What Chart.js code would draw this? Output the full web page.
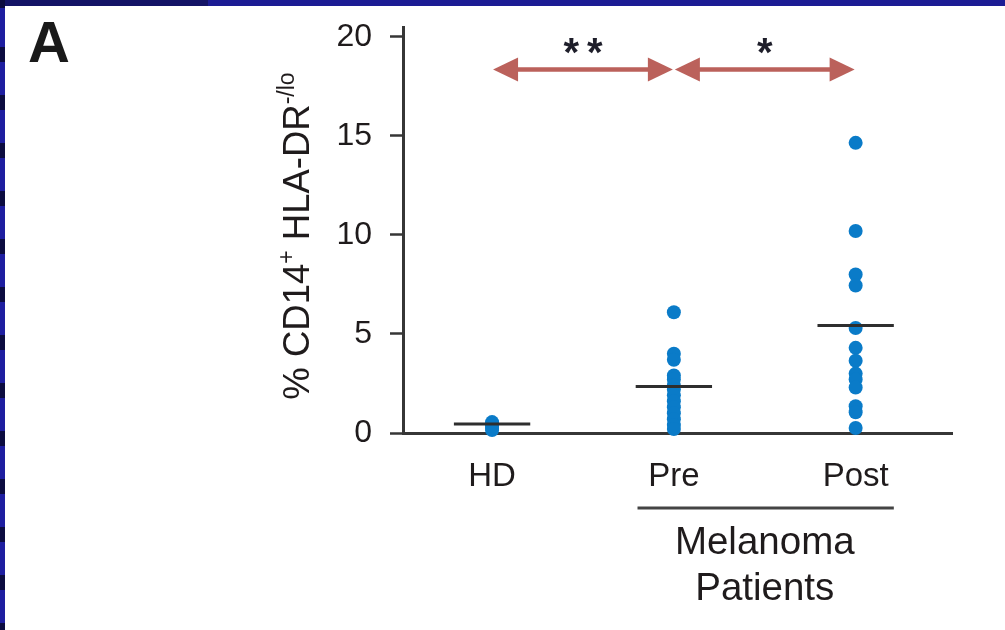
<!DOCTYPE html>
<html>
<head>
<meta charset="utf-8">
<script src="https://cdn.jsdelivr.net/npm/chart.js@4"></script>
<style>
html,body{margin:0;padding:0;width:1005px;height:630px;overflow:hidden;background:#1c1c94;}
#topdark{position:absolute;left:0;top:0;width:208px;height:6px;background:#141466;}
#leftstrip{position:absolute;left:0;top:0;width:5px;height:630px;
  background:repeating-linear-gradient(to bottom,#1e1ea0 0px,#1e1ea0 33px,#0c0c40 33px,#0c0c40 48px);
  background-position:0 14px;}
#panel{position:absolute;left:5px;top:6px;width:1000px;height:624px;background:#ffffff;}
#wrap{position:absolute;left:0;top:0;width:1005px;height:630px;}
</style>
</head>
<body>
<div id="topdark"></div>
<div id="leftstrip"></div>
<div id="panel"></div>
<div id="wrap"><canvas id="c" width="1005" height="630"></canvas></div>
<script>
// ---- data ----
const categories = ['HD', 'Pre', 'Post'];
const hdValues   = [0.55, 0.45, 0.35, 0.25, 0.15];
const preValues  = [6.1, 4.0, 3.7, 2.9, 2.7, 2.4, 2.2, 1.9, 1.6, 1.3, 1.0, 0.7, 0.4, 0.2];
const postValues = [14.65, 10.2, 8.0, 7.45, 5.3, 4.3, 3.65, 3.0, 2.7, 2.3, 1.35, 1.05, 0.25];
const groupMeans = [0.45, 2.35, 5.43];
const yTicks     = [0, 5, 10, 15, 20];
const comparisons = [
  { from: 0, to: 1, label: '**' },
  { from: 1, to: 2, label: '*' }
];
const arrowLevel = 18.35;
const groupBracket = { from: 1, to: 2, lines: ['Melanoma', 'Patients'] };
const yTitleParts = [
  { t: '% CD14', sup: false },
  { t: '+', sup: true },
  { t: ' HLA-DR', sup: false },
  { t: '-/lo', sup: true }
];
const panelLetter = 'A';

// ---- styles ----
const DOT = '#0a7bc8';
const AXIS = '#363636';
const TXT = '#1f1b1c';
const ARROW = '#bb615b';
const FONT = '"Liberation Sans", Arial, sans-serif';
const meanHalfWidth = 0.21;

const groups = [hdValues, preValues, postValues];

const scatterSets = groups.map((vals, i) => ({
  type: 'scatter',
  data: vals.map(v => ({ x: i + 1, y: v })),
  backgroundColor: DOT,
  borderWidth: 0,
  pointRadius: 7,
  pointHoverRadius: 7,
  order: 1,
  clip: false
}));

const meanSets = groupMeans.map((m, i) => ({
  type: 'line',
  data: [{ x: i + 1 - meanHalfWidth, y: m }, { x: i + 1 + meanHalfWidth, y: m }],
  borderColor: '#2e2e2e',
  borderWidth: 3,
  pointRadius: 0,
  order: 0,
  clip: false
}));

function drawArrowHead(ctx, tipX, y, dir) {
  const len = 25, half = 12;
  ctx.beginPath();
  ctx.moveTo(tipX, y);
  ctx.lineTo(tipX + dir * len, y - half);
  ctx.lineTo(tipX + dir * len, y + half);
  ctx.closePath();
  ctx.fill();
}

const annotations = {
  id: 'annotations',
  afterDraw(chart) {
    const { ctx, scales: { x, y }, chartArea } = chart;
    ctx.save();

    // panel letter
    ctx.fillStyle = '#1a1a1a';
    ctx.font = 'bold 58px ' + FONT;
    ctx.textAlign = 'left';
    ctx.textBaseline = 'alphabetic';
    ctx.fillText(panelLetter, 28, 62);

    // y-axis title with superscripts
    const mainSize = 36.5, supSize = 23, raise = 15;
    let total = 0;
    yTitleParts.forEach(p => {
      ctx.font = (p.sup ? supSize : mainSize) + 'px ' + FONT;
      p.w = ctx.measureText(p.t).width;
      total += p.w;
    });
    ctx.save();
    ctx.translate(309, 236);
    ctx.rotate(-Math.PI / 2);
    ctx.fillStyle = TXT;
    let cx = -total / 2;
    yTitleParts.forEach(p => {
      ctx.font = (p.sup ? supSize : mainSize) + 'px ' + FONT;
      ctx.fillText(p.t, cx, p.sup ? -raise : 0);
      cx += p.w;
    });
    ctx.restore();

    // significance arrows
    const ay = y.getPixelForValue(arrowLevel);
    comparisons.forEach(c => {
      const x1 = x.getPixelForValue(c.from + 1) + 1;
      const x2 = x.getPixelForValue(c.to + 1) - 1;
      ctx.strokeStyle = ARROW;
      ctx.fillStyle = ARROW;
      ctx.lineWidth = 4.5;
      ctx.beginPath();
      ctx.moveTo(x1 + 10, ay);
      ctx.lineTo(x2 - 10, ay);
      ctx.stroke();
      drawArrowHead(ctx, x1, ay, 1);
      drawArrowHead(ctx, x2, ay, -1);
      ctx.fillStyle = '#1e1e2a';
      ctx.font = 'bold 40px ' + FONT;
      ctx.textAlign = 'center';
      const sp = 8;
      ctx.letterSpacing = sp + 'px';
      ctx.fillText(c.label, (x1 + x2) / 2 + sp / 2, ay - 4);
      ctx.letterSpacing = '0px';
    });

    // group bracket under Pre / Post
    const bx1 = x.getPixelForValue(groupBracket.from + 1 - 0.2);
    const bx2 = x.getPixelForValue(groupBracket.to + 1 + 0.21);
    const by = chartArea.bottom + 75;
    ctx.strokeStyle = '#444444';
    ctx.lineWidth = 3;
    ctx.beginPath();
    ctx.moveTo(bx1, by);
    ctx.lineTo(bx2, by);
    ctx.stroke();
    ctx.fillStyle = TXT;
    ctx.font = '38.5px ' + FONT;
    ctx.textAlign = 'center';
    const mid = (x.getPixelForValue(groupBracket.from + 1) + x.getPixelForValue(groupBracket.to + 1)) / 2;
    groupBracket.lines.forEach((t, k) => {
      ctx.fillText(t, mid, by + 46 + k * 46);
    });

    ctx.restore();
  }
};

new Chart(document.getElementById('c'), {
  type: 'scatter',
  data: { datasets: [...meanSets, ...scatterSets] },
  options: {
    responsive: false,
    devicePixelRatio: 1,
    animation: false,
    events: [],
    layout: { padding: { top: 27, right: 53, left: 0, bottom: 0 } },
    plugins: { legend: { display: false }, tooltip: { enabled: false } },
    scales: {
      x: {
        type: 'linear',
        min: 0.51,
        max: 3.53,
        afterBuildTicks: s => { s.ticks = categories.map((c, i) => ({ value: i + 1 })); },
        afterFit: s => { s.height = 197; s.paddingLeft = 0; s.paddingRight = 0; },
        grid: { display: false },
        border: { display: true, color: AXIS, width: 3 },
        ticks: {
          padding: 16,
          autoSkip: false,
          maxRotation: 0,
          color: TXT,
          font: { family: FONT, size: 33 },
          callback: v => categories[Math.round(v) - 1]
        }
      },
      y: {
        min: 0,
        max: 20.5,
        afterBuildTicks: s => { s.ticks = yTicks.map(v => ({ value: v })); },
        afterFit: s => { s.width = 403; s.paddingTop = 0; s.paddingBottom = 0; },
        grid: { display: true, drawOnChartArea: false, drawTicks: true, tickLength: 13, tickWidth: 2.5, tickColor: AXIS },
        border: { display: true, color: AXIS, width: 3 },
        ticks: {
          padding: 18,
          color: TXT,
          font: { family: FONT, size: 32 }
        }
      }
    }
  },
  plugins: [annotations]
});
</script>
</body>
</html>
